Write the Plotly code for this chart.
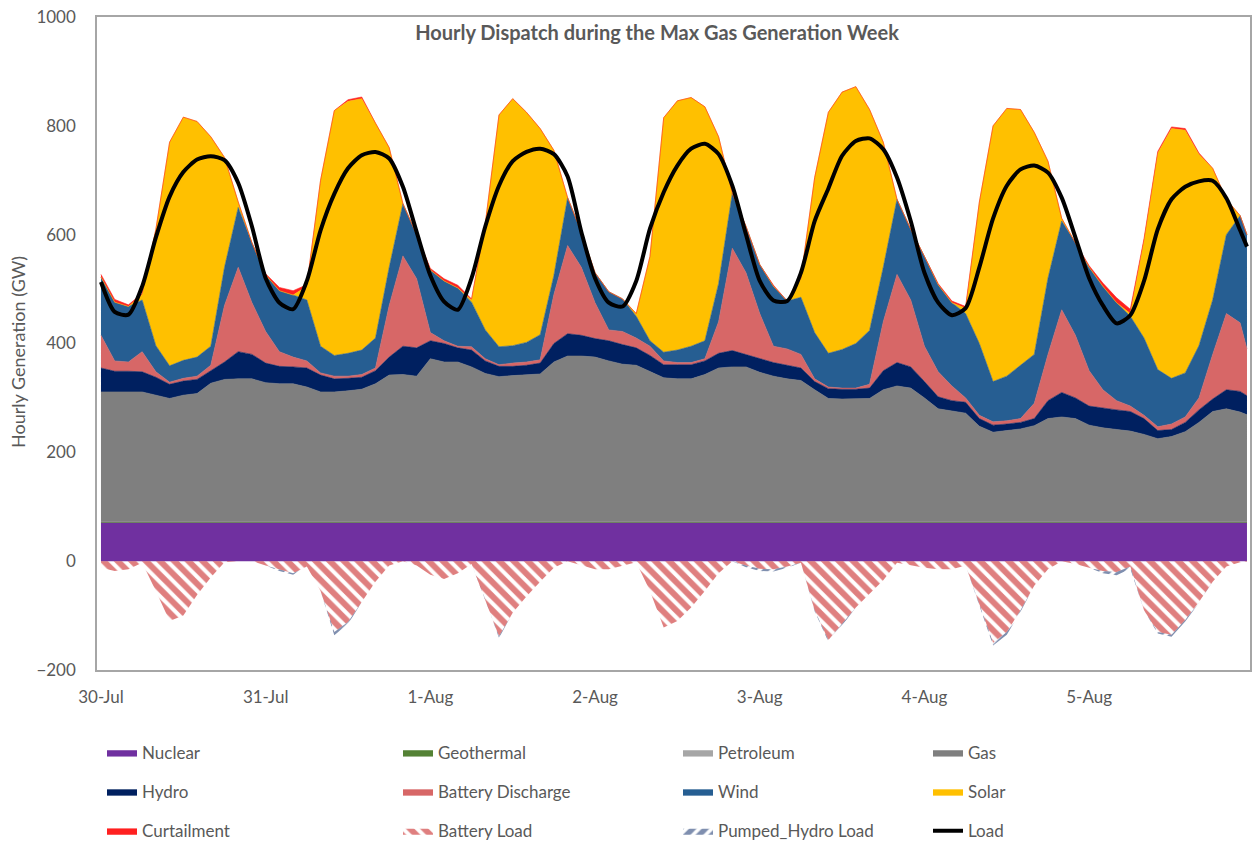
import plotly.graph_objects as go

# Hour index from 30-Jul 00:00 (sampled every 2 hours, plus the final hour)
hours = list(range(0, 167, 2)) + [167]
day_ticks = [0, 24, 48, 72, 96, 120, 144]
day_labels = ["30-Jul", "31-Jul", "1-Aug", "2-Aug", "3-Aug", "4-Aug", "5-Aug"]

nuclear = [70, 70, 70, 70, 70, 70, 70, 70, 70, 70, 70, 70,
           70, 70, 70, 70, 70, 70, 70, 70, 70, 70, 70, 70,
           70, 70, 70, 70, 70, 70, 70, 70, 70, 70, 70, 70,
           70, 70, 70, 70, 70, 70, 70, 70, 70, 70, 70, 70,
           70, 70, 70, 70, 70, 70, 70, 70, 70, 70, 70, 70,
           70, 70, 70, 70, 70, 70, 70, 70, 70, 70, 70, 70,
           70, 70, 70, 70, 70, 70, 70, 70, 70, 70, 70, 70, 70]
geothermal = [2, 2, 2, 2, 2, 2, 2, 2, 2, 2, 2, 2,
              2, 2, 2, 2, 2, 2, 2, 2, 2, 2, 2, 2,
              2, 2, 2, 2, 2, 2, 2, 2, 2, 2, 2, 2,
              2, 2, 2, 2, 2, 2, 2, 2, 2, 2, 2, 2,
              2, 2, 2, 2, 2, 2, 2, 2, 2, 2, 2, 2,
              2, 2, 2, 2, 2, 2, 2, 2, 2, 2, 2, 2,
              2, 2, 2, 2, 2, 2, 2, 2, 2, 2, 2, 2, 2]
petroleum = [0, 0, 0, 0, 0, 0, 0, 0, 0, 0, 0, 0,
             0, 0, 0, 0, 0, 0, 0, 0, 0, 0, 0, 0,
             0, 0, 0, 0, 0, 0, 0, 0, 0, 0, 0, 0,
             0, 0, 0, 0, 0, 0, 0, 0, 0, 0, 0, 0,
             0, 0, 0, 0, 0, 0, 0, 0, 0, 0, 0, 0,
             0, 0, 0, 0, 0, 0, 0, 0, 0, 0, 0, 0,
             0, 0, 0, 0, 0, 0, 0, 0, 0, 0, 0, 0, 0]
gas = [239, 239, 239, 239, 233, 227, 233, 236, 255, 262, 263, 263,
       256, 254, 254, 248, 239, 239, 241, 244, 254, 270, 271, 268,
       300, 294, 294, 285, 273, 267, 269, 271, 272, 294, 305, 305,
       303, 296, 290, 288, 276, 265, 263, 263, 271, 283, 285, 285,
       275, 268, 263, 260, 243, 227, 226, 226, 227, 243, 250, 246,
       228, 208, 204, 200, 176, 165, 168, 171, 177, 190, 193, 190,
       178, 173, 170, 167, 161, 153, 157, 166, 183, 203, 208, 202, 197]
hydro = [44, 38, 38, 37, 33, 26, 26, 26, 23, 32, 50, 45,
         36, 32, 31, 35, 31, 24, 23, 22, 24, 33, 52, 52,
         33, 34, 26, 31, 23, 19, 17, 17, 20, 34, 41, 38,
         34, 37, 36, 32, 30, 24, 26, 26, 25, 27, 30, 23,
         25, 25, 25, 23, 15, 18, 18, 18, 19, 35, 43, 39,
         30, 22, 19, 20, 14, 13, 12, 12, 13, 33, 45, 38,
         35, 36, 36, 36, 29, 15, 13, 17, 23, 23, 35, 38, 35]
battery_discharge = [60, 19, 17, 37, 10, 4, 5, 6, 10, 104, 155, 95,
                     58, 27, 18, 13, 4, 5, 4, 5, 5, 95, 166, 127,
                     15, 5, 3, 6, 4, 3, 6, 6, 6, 90, 162, 125,
                     66, 20, 24, 18, 17, 7, 4, 4, 4, 58, 188, 150,
                     83, 30, 30, 25, 5, 3, 2, 2, 7, 90, 162, 123,
                     65, 46, 27, 8, 6, 6, 6, 7, 28, 85, 152, 115,
                     65, 34, 17, 10, 6, 7, 10, 10, 22, 82, 140, 126, 86]
wind = [107, 108, 102, 95, 48, 30, 33, 35, 35, 70, 110, 110,
        104, 112, 114, 112, 49, 38, 42, 45, 55, 70, 96, 81,
        115, 110, 107, 82, 53, 33, 32, 36, 46, 35, 88, 65,
        55, 70, 60, 40, 10, 16, 23, 30, 33, 70, 101, 85,
        90, 110, 88, 105, 85, 62, 71, 82, 99, 100, 138, 130,
        165, 160, 153, 155, 132, 74, 82, 98, 90, 140, 163, 170,
        190, 190, 180, 165, 142, 105, 84, 81, 96, 100, 145, 197, 210]
solar = [0, 0, 0, 10, 214, 411, 447, 433, 385, 202, 10, 0,
         0, 0, 0, 25, 305, 450, 463, 462, 395, 220, 0, 0,
         0, 0, 0, 4, 195, 426, 454, 423, 379, 230, 0, 0,
         0, 0, 0, 5, 155, 431, 458, 457, 430, 270, 0, 0,
         0, 0, 0, 35, 285, 443, 473, 472, 406, 230, 0, 0,
         0, 0, 0, 10, 260, 470, 492, 470, 408, 215, 5, 0,
         0, 0, 0, 5, 180, 398, 459, 446, 352, 242, 65, 0, 0]
curtailment = [5, 5, 3, 2, 0, 0, 0, 0, 0, 0, 0, 0,
               2, 6, 8, 3, 0, 0, 3, 3, 0, 0, 0, 0,
               3, 4, 5, 2, 0, 0, 0, 0, 0, 0, 0, 0,
               0, 0, 0, 0, 0, 0, 0, 0, 0, 0, 0, 0,
               0, 2, 0, 0, 0, 0, 0, 0, 0, 0, 0, 0,
               0, 2, 3, 3, 0, 0, 0, 0, 0, 0, 0, 0,
               3, 6, 9, 8, 3, 3, 3, 3, 2, 0, 0, 0, 0]
battery_load = [-12, -18, -15, -3, -55, -110, -100, -62, -30, -2, 0, 0,
                -8, -15, -22, -10, -55, -130, -112, -75, -38, -8, 0, -8,
                -25, -33, -22, -5, -70, -138, -95, -65, -38, -12, 0, -8,
                -15, -15, -8, -2, -55, -122, -110, -85, -55, -22, 0, -8,
                -14, -15, -10, -3, -90, -145, -115, -85, -60, -35, -3, -8,
                -12, -15, -15, -8, -80, -150, -130, -90, -45, -15, 0, -5,
                -12, -18, -20, -10, -90, -130, -135, -108, -75, -38, -10, -2, -1]
pumped_hydro_load = [0, 0, 0, 0, 0, 0, 0, 0, 0, 0, 0, 0,
                     0, -3, -3, 0, 0, -6, -4, 0, 0, 0, 0, 0,
                     0, 0, 0, 0, 0, -3, 0, 0, 0, 0, 0, 0,
                     0, 0, 0, 0, 0, 0, 0, 0, 0, 0, 0, -3,
                     -4, -4, -2, 0, -2, -3, -3, 0, 0, 0, 0, 0,
                     0, 0, 0, 0, 0, -5, -5, -3, 0, 0, 0, 0,
                     0, -4, -6, -4, 0, -3, -4, -3, -2, 0, 0, 0, 0]
load = [513, 458, 453, 505, 595, 670, 715, 738, 744, 737, 695, 615,
        520, 475, 463, 515, 608, 675, 722, 746, 752, 740, 688, 605,
        525, 477, 462, 520, 615, 690, 735, 752, 758, 748, 707, 605,
        520, 475, 468, 515, 611, 678, 727, 758, 767, 748, 690, 600,
        515, 479, 478, 530, 625, 685, 745, 772, 777, 757, 705, 625,
        530, 475, 452, 465, 540, 630, 690, 720, 727, 714, 668, 595,
        520, 470, 437, 452, 515, 610, 665, 688, 698, 699, 667, 608, 578]

TXT = "#595959"
FONT = "Lato"

fig = go.Figure()

pos_series = [
    ("Nuclear", nuclear, "#7030A0", "legend"),
    ("Geothermal", geothermal, "#548235", "legend2"),
    ("Petroleum", petroleum, "#A6A6A6", "legend3"),
    ("Gas", gas, "#7F7F7F", "legend4"),
    ("Hydro", hydro, "#002060", "legend"),
    ("Battery Discharge", battery_discharge, "#D76767", "legend2"),
    ("Wind", wind, "#265E92", "legend3"),
    ("Solar", solar, "#FFC000", "legend4"),
    ("Curtailment", curtailment, "#FF2020", "legend"),
]
for name, vals, col, lg in pos_series:
    fig.add_trace(go.Scatter(
        x=hours, y=vals, name=name, stackgroup="pos", mode="lines",
        line=dict(width=0.6, color=col), fillcolor=col,
        legend=lg, legendgroup=name,
    ))

fig.add_trace(go.Scatter(
    x=hours, y=battery_load, name="Battery Load", stackgroup="neg", mode="lines",
    line=dict(width=0, color="#C00000"), fillcolor="#C00000",
    fillpattern=dict(shape="\\", fgcolor="#C00000", bgcolor="rgba(255,255,255,0)",
                     size=10, solidity=0.6),
    legend="legend2", legendgroup="Battery Load",
))
fig.add_trace(go.Scatter(
    x=hours, y=pumped_hydro_load, name="Pumped_Hydro Load", stackgroup="neg", mode="lines",
    line=dict(width=0, color="#002060"), fillcolor="#002060",
    fillpattern=dict(shape="/", fgcolor="#002060", bgcolor="rgba(255,255,255,0)",
                     size=9, solidity=0.6),
    legend="legend3", legendgroup="Pumped_Hydro Load",
))
fig.add_trace(go.Scatter(
    x=hours, y=load, name="Load", mode="lines",
    line=dict(color="black", width=4, shape="spline", smoothing=0.7),
    legend="legend4", legendgroup="Load",
))

W, H = 1253, 843
leg_common = dict(
    orientation="v", xref="container", yref="container",
    yanchor="top", xanchor="left", y=1 - 735 / H,
    font=dict(family=FONT, size=17, color=TXT),
    traceorder="grouped", tracegroupgap=14,
    bgcolor="rgba(0,0,0,0)", borderwidth=0,
)

xr = [-0.58, 167.44]
fig.update_layout(
    width=W, height=H,
    margin=dict(l=97, r=3, t=17, b=173, autoexpand=False),
    paper_bgcolor="white", plot_bgcolor="white",
    font=dict(family=FONT, color=TXT),
    title=dict(text="<b>Hourly Dispatch during the Max Gas Generation Week</b>",
               x=657 / W, xanchor="center", xref="container",
               y=1 - 33 / H, yanchor="middle", yref="container",
               font=dict(family=FONT, size=20, color=TXT)),
    showlegend=True,
    legend=dict(leg_common, x=102 / W),
    legend2=dict(leg_common, x=398 / W),
    legend3=dict(leg_common, x=678 / W),
    legend4=dict(leg_common, x=928 / W),
    xaxis=dict(range=xr, tickmode="array", tickvals=day_ticks, ticktext=day_labels,
               showgrid=False, zeroline=False, showline=True, mirror=True,
               linecolor="#A6A6A6", linewidth=1.5, ticks="", ticklabelstandoff=11,
               tickfont=dict(family=FONT, size=17, color=TXT), automargin=False),
    xaxis2=dict(range=xr, overlaying="x", anchor="free", position=108 / 653,
                side="bottom", showgrid=False, zeroline=False, showline=True,
                linecolor="#D9D9D9", linewidth=1, ticks="outside", ticklen=5,
                tickcolor="#C8C8C8", tickwidth=1, tick0=0, dtick=1,
                showticklabels=False, automargin=False),
    yaxis=dict(range=[-200, 1000], dtick=200, showgrid=False, zeroline=False,
               showline=True, mirror=True, linecolor="#A6A6A6", linewidth=1.5,
               ticks="", ticklabelstandoff=16,
               tickfont=dict(family=FONT, size=17, color=TXT),
               automargin=False),
    annotations=[dict(text="Hourly Generation (GW)", textangle=-90,
                      xref="paper", yref="paper", x=(18 - 97) / 1153, y=(670 - 352) / 653,
                      xanchor="center", yanchor="middle", showarrow=False,
                      font=dict(family=FONT, size=18, color=TXT))],
)

fig.write_html("out.html", config={"displayModeBar": False},
               post_script="document.body.style.margin='0px';")
